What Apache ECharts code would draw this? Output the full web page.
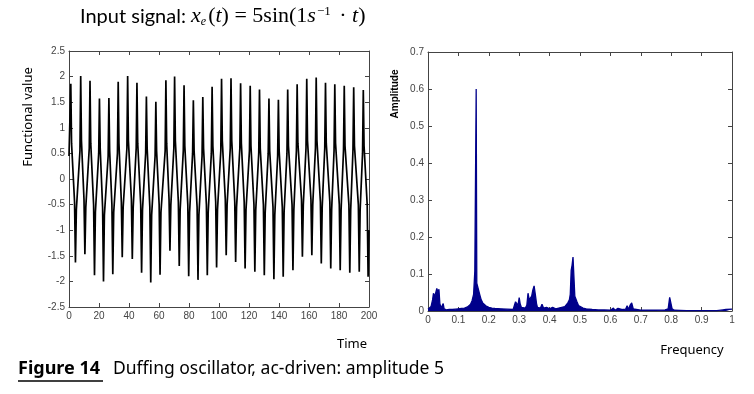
<!DOCTYPE html>
<html>
<head>
<meta charset="utf-8">
<script src="https://cdn.jsdelivr.net/npm/echarts@6/dist/echarts.min.js"></script>
<style>html,body{margin:0;padding:0;background:#fff;}#c{width:754px;height:394px;}</style>
</head>
<body>
<div id="c"></div>
<script>
// Time signal: time [s] and functional value
const signalTime = [0,
1.2,1.7,3.7,4.3,4.9,7.3,
7.8,8.3,10.0,10.6,11.2,13.5,
14.0,14.5,16.4,17.0,17.6,19.8,
20.3,20.8,22.4,23.0,23.6,26.1,
26.6,27.1,28.6,29.2,29.8,32.3,
32.8,33.3,34.9,35.5,36.1,38.6,
39.1,39.6,41.6,42.2,42.8,44.8,
45.3,45.8,47.8,48.4,49.0,51.1,
51.6,52.1,53.9,54.5,55.1,57.4,
57.9,58.4,60.1,60.7,61.3,64.1,
64.6,65.1,66.7,67.3,67.9,69.9,
70.4,70.9,72.9,73.5,74.1,76.2,
76.7,77.2,79.2,79.8,80.4,82.4,
82.9,83.4,85.4,86.0,86.6,88.7,
89.2,89.7,91.6,92.2,92.8,94.9,
95.4,95.9,97.8,98.4,99.0,101.2,
101.7,102.2,104.2,104.8,105.4,107.5,
108.0,108.5,110.5,111.1,111.7,113.9,
114.4,114.9,116.8,117.4,118.0,120.3,
120.8,121.3,123.3,123.9,124.5,126.5,
127.0,127.5,129.6,130.2,130.8,132.8,
133.3,133.8,136.0,136.6,137.2,139.1,
139.6,140.1,142.2,142.8,143.4,145.3,
145.8,146.3,148.7,149.3,149.9,151.6,
152.1,152.6,155.0,155.6,156.2,158.0,
158.5,159.0,161.3,161.9,162.5,164.3,
164.8,165.3,167.6,168.2,168.8,170.5,
171.0,171.5,173.9,174.5,175.1,176.7,
177.2,177.7,180.2,180.8,181.4,183.0,
183.5,184.0,186.6,187.2,187.8,189.3,
189.8,190.3,192.9,193.5,194.1,195.7,
196.2,196.7,198.8,199.4,200];
const signalValue = [0.45,
1.86,0.7,-0.45,-1.63,-0.6,0.55,
2.01,0.75,-0.4,-1.47,-0.55,0.6,
1.92,0.7,-0.5,-1.88,-0.65,0.5,
1.57,0.6,-0.55,-2.0,-0.7,0.45,
1.58,0.55,-0.5,-1.86,-0.65,0.5,
1.90,0.7,-0.45,-1.53,-0.55,0.6,
2.01,0.75,-0.4,-1.56,-0.55,0.6,
1.88,0.7,-0.5,-1.83,-0.6,0.5,
1.61,0.6,-0.55,-2.02,-0.7,0.45,
1.51,0.55,-0.5,-1.87,-0.65,0.55,
1.93,0.7,-0.4,-1.40,-0.5,0.6,
2.00,0.75,-0.45,-1.70,-0.6,0.55,
1.83,0.65,-0.5,-1.90,-0.65,0.5,
1.54,0.55,-0.55,-1.97,-0.7,0.45,
1.60,0.6,-0.5,-1.88,-0.65,0.5,
1.80,0.65,-0.45,-1.73,-0.6,0.55,
1.96,0.75,-0.4,-1.49,-0.5,0.6,
1.97,0.75,-0.45,-1.62,-0.55,0.6,
1.87,0.7,-0.45,-1.75,-0.6,0.55,
1.82,0.65,-0.5,-1.81,-0.6,0.5,
1.75,0.6,-0.5,-1.88,-0.65,0.5,
1.57,0.55,-0.55,-1.96,-0.7,0.45,
1.55,0.55,-0.55,-1.91,-0.65,0.5,
1.75,0.65,-0.5,-1.78,-0.6,0.55,
1.85,0.7,-0.4,-1.52,-0.5,0.6,
1.96,0.75,-0.4,-1.49,-0.5,0.6,
1.98,0.75,-0.45,-1.65,-0.55,0.6,
1.88,0.7,-0.45,-1.75,-0.6,0.55,
1.85,0.7,-0.5,-1.78,-0.6,0.55,
1.82,0.65,-0.5,-1.83,-0.6,0.55,
1.79,0.65,-0.5,-1.81,-0.6,0.5,
1.74,0.65,-0.5,-1.91,-1.0];

// Amplitude spectrum
const freq = [0,0.005,0.01,0.015,0.018,0.022,0.025,0.029,0.033,0.036,0.039,0.043,0.047,0.05,0.053,
0.06,0.07,0.08,0.09,0.1,0.11,0.12,0.13,0.14,0.145,0.15,0.154,0.1575,0.1585,0.1595,0.1605,
0.163,0.166,0.17,0.175,0.18,0.19,0.2,0.21,0.22,0.24,0.26,0.28,0.285,0.288,0.292,0.296,0.3,0.303,0.307,
0.31,0.32,0.325,0.329,0.333,0.337,0.341,0.345,0.349,0.353,0.357,0.36,0.365,0.37,0.375,0.38,0.39,
0.4,0.41,0.42,0.43,0.44,0.45,0.455,0.46,0.465,0.468,0.471,0.474,0.477,0.48,0.483,0.487,0.49,0.495,
0.5,0.51,0.52,0.54,0.56,0.58,0.6,0.61,0.615,0.625,0.63,0.64,0.65,0.655,0.66,0.665,0.67,0.675,0.68,
0.7,0.72,0.75,0.78,0.79,0.795,0.799,0.803,0.81,0.85,0.9,0.95,0.97,0.98,1.0];
const amp = [0.005,0.008,0.012,0.03,0.048,0.038,0.043,0.061,0.05,0.059,0.02,0.008,0.013,0.02,0.006,
0.003,0.004,0.004,0.005,0.006,0.007,0.008,0.011,0.018,0.028,0.045,0.108,0.108,0.6,0.6,0.075,
0.078,0.072,0.045,0.03,0.022,0.014,0.01,0.008,0.007,0.006,0.005,0.004,0.003,0.025,0.028,0.015,0.036,0.02,0.01,
0.005,0.008,0.015,0.048,0.03,0.025,0.04,0.057,0.068,0.045,0.02,0.01,0.015,0.008,0.018,0.008,0.01,
0.006,0.01,0.006,0.008,0.01,0.012,0.015,0.022,0.03,0.045,0.11,0.124,0.146,0.145,0.04,0.035,0.025,0.015,
0.012,0.008,0.006,0.004,0.003,0.003,0.002,0.008,0.002,0.007,0.002,0.004,0.005,0.014,0.004,0.016,0.022,0.006,0.003,
0.002,0.002,0.002,0.003,0.006,0.037,0.035,0.006,0.002,0.001,0.001,0.001,0.003,0.004,0.005];

const leftXTicks = {min:0, max:200, interval:20};
const leftYTicks = {min:-2.5, max:2.5, interval:0.5};
const rightXTicks = {min:0, max:1, interval:0.1};
const rightYTicks = {min:0, max:0.7, interval:0.1};

const chart = echarts.init(document.getElementById('c'), null, {renderer:'canvas'});
const lbl = {fontFamily:'Liberation Sans, Arial', fontSize:10, color:'#444', margin:4};
const lineC = '#444';
function axisX(grid, t, pos, show, fmt) {
  return {type:'value', gridIndex:grid, position:pos, min:t.min, max:t.max, interval:t.interval,
    axisLine:{show:true, onZero:false, lineStyle:{color:lineC, width:1}},
    axisTick:{show:true, inside:true, length:4, lineStyle:{color:lineC}},
    axisLabel:Object.assign({show:show, formatter:fmt}, lbl),
    splitLine:{show:false}};
}
function axisY(grid, t, pos, show, fmt) {
  return {type:'value', gridIndex:grid, position:pos, min:t.min, max:t.max, interval:t.interval,
    axisLine:{show:true, onZero:false, lineStyle:{color:lineC, width:1}},
    axisTick:{show:true, inside:true, length:4, lineStyle:{color:lineC}},
    axisLabel:Object.assign({show:show, formatter:fmt}, lbl),
    splitLine:{show:false}};
}
const fmtNum = v => String(+v.toFixed(2));

const option = {
  animation:false,
  backgroundColor:'#fff',
  grid:[
    {left:69, right:385, top:51, bottom:87},
    {left:428, right:22, top:52, bottom:83}
  ],
  xAxis:[
    axisX(0, leftXTicks, 'bottom', true, fmtNum),
    axisX(1, rightXTicks, 'bottom', true, fmtNum),
    axisX(0, leftXTicks, 'top', false),
    axisX(1, rightXTicks, 'top', false)
  ],
  yAxis:[
    axisY(0, leftYTicks, 'left', true, fmtNum),
    axisY(1, rightYTicks, 'left', true, fmtNum),
    axisY(0, leftYTicks, 'right', false),
    axisY(1, rightYTicks, 'right', false)
  ],
  series:[
    {type:'line', xAxisIndex:0, yAxisIndex:0, showSymbol:false, silent:true,
     data:signalTime.map((t,i)=>[t, signalValue[i]]),
     lineStyle:{color:'#000', width:1.7}},
    {type:'line', xAxisIndex:1, yAxisIndex:1, showSymbol:false, silent:true,
     data:freq.map((f,i)=>[f, amp[i]]),
     lineStyle:{color:'#00008B', width:1.3},
     areaStyle:{color:'#00008B', opacity:1}}
  ],
  graphic:[
    {type:'text', left:80, top:5, style:{
      text:'{a|Input signal: }{i|x}{s|e}{r|(}{i|t}{r|) = 5sin(1}{i|s}{p|−1}{r| · }{i|t}{r|)}',
      rich:{
        a:{fontFamily:'Lato, Noto Sans, sans-serif', fontSize:20, fill:'#000'},
        i:{fontFamily:'Liberation Serif, serif', fontStyle:'italic', fontSize:22, fill:'#000'},
        r:{fontFamily:'Liberation Serif, serif', fontSize:22, fill:'#000'},
        s:{fontFamily:'Liberation Serif, serif', fontStyle:'italic', fontSize:12, fill:'#000', verticalAlign:'bottom', padding:[8,2,0,0]},
        p:{fontFamily:'Liberation Serif, serif', fontSize:13, fill:'#000', verticalAlign:'top', padding:[0,3,10,1]}
      }}},
    {type:'text', x:28, y:117, rotation:Math.PI/2, style:{text:'Functional value', fontFamily:'Noto Sans, sans-serif', fontSize:13, fill:'#000', textAlign:'center', textVerticalAlign:'middle'}},
    {type:'text', x:352, y:344, style:{text:'Time', fontFamily:'Noto Sans, sans-serif', fontSize:13, fill:'#000', textAlign:'center', textVerticalAlign:'middle'}},
    {type:'text', x:395, y:94, rotation:Math.PI/2, style:{text:'Amplitude', fontFamily:'Liberation Sans, Arial', fontWeight:'bold', fontSize:10, fill:'#000', textAlign:'center', textVerticalAlign:'middle'}},
    {type:'text', x:692, y:350, style:{text:'Frequency', fontFamily:'Noto Sans, sans-serif', fontSize:13, fill:'#000', textAlign:'center', textVerticalAlign:'middle'}},
    {type:'text', x:18, y:369, style:{text:'Figure 14', fontFamily:'Noto Sans, sans-serif', fontWeight:'bold', fontSize:18, fill:'#000', textVerticalAlign:'middle'}},
    {type:'line', shape:{x1:18, y1:381, x2:103, y2:381}, style:{stroke:'#000', lineWidth:1.5}},
    {type:'text', x:113, y:369, style:{text:'Duffing oscillator, ac-driven: amplitude 5', fontFamily:'Noto Sans, sans-serif', fontSize:17.5, fill:'#000', textVerticalAlign:'middle'}}
  ]
};
chart.setOption(option);
</script>
</body>
</html>
